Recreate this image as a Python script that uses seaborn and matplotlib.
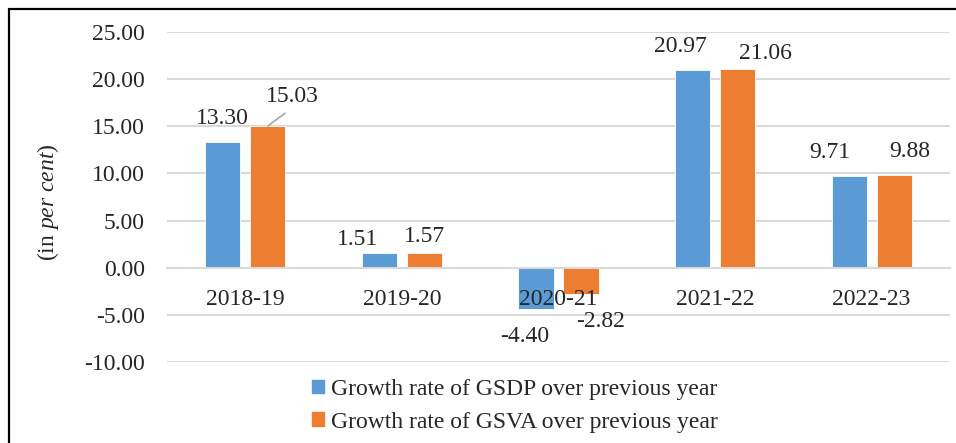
import numpy as np
import pandas as pd
import matplotlib
matplotlib.use("Agg")
import matplotlib.pyplot as plt
from matplotlib.lines import Line2D
import seaborn as sns

# data
years = ["2018-19", "2019-20", "2020-21", "2021-22", "2022-23"]
gsdp_growth = [13.30, 1.51, -4.40, 20.97, 9.71]
gsva_growth = [15.03, 1.57, -2.82, 21.06, 9.88]
series_names = ["Growth rate of GSDP over previous year",
                "Growth rate of GSVA over previous year"]
y_ticks = [-10, -5, 0, 5, 10, 15, 20, 25]

df = pd.DataFrame({
    "Year": years * 2,
    "Growth": gsdp_growth + gsva_growth,
    "Series": [series_names[0]] * len(years) + [series_names[1]] * len(years),
})

sns.set_style("white")
plt.rcParams["font.family"] = ["Liberation Serif", "DejaVu Serif"]
plt.rcParams["mathtext.fontset"] = "custom"
plt.rcParams["mathtext.rm"] = "Liberation Serif"
plt.rcParams["mathtext.it"] = "Liberation Serif:italic"

blue = "#5B9BD5"
orange = "#ED7D31"
fs = 17

fig = plt.figure(figsize=(9.56, 4.43), dpi=100)
ax = fig.add_axes([0.1747, 0.1828, 0.8190, 0.7450])

sns.barplot(data=df, x="Year", y="Growth", hue="Series",
            palette=[blue, orange], saturation=1, width=0.575, gap=0.22,
            edgecolor="white", linewidth=0.6, ax=ax, legend=False)

ax.set_ylim(-10, 25)
ax.set_xlim(-0.5, len(years) - 0.5)
ax.set_yticks(y_ticks)
ax.set_yticklabels([f"{v:.2f}" for v in y_ticks])
ax.yaxis.grid(True, color="#D9D9D9", linewidth=1.5)
ax.set_axisbelow(True)
ax.xaxis.set_zorder(3)  # category labels sit on top of the bars
for s in ["top", "right", "left"]:
    ax.spines[s].set_visible(False)
ax.spines["bottom"].set_position(("data", 0))
ax.spines["bottom"].set_color("#D9D9D9")
ax.spines["bottom"].set_linewidth(1.5)
ax.tick_params(axis="y", length=0, pad=16, labelsize=fs)
ax.tick_params(axis="x", length=0, pad=15, labelsize=fs)
ax.set_xlabel("")
ax.set_ylabel(r"(in $\it{per\ cent}$)", fontsize=fs)
ax.yaxis.set_label_coords(-0.135, 0.485)

# label offsets in pixels (dx, dy) for each bar, GSDP then GSVA
offsets = [
    [(0, 24), (-22, 14), (-11, -27), (-12, 23), (-19, 24)],
    [(25, 29), (0, 16), (20, -27), (28, 16), (16, 23)],
]
for si, containers in enumerate(ax.containers):
    for bi, bar in enumerate(containers):
        val = bar.get_height()
        x = bar.get_x() + bar.get_width() / 2
        dx, dy = offsets[si][bi]
        arrow = None
        if si == 1 and bi == 0:
            arrow = dict(arrowstyle="-", color="#A6A6A6", lw=1.2,
                         relpos=(0.5, 0.0), shrinkA=3, shrinkB=0)
        ax.annotate(f"{val:.2f}", xy=(x, val), xytext=(dx, dy),
                    textcoords="offset pixels", ha="center", va="center",
                    fontsize=fs, arrowprops=arrow)

handles = [plt.Rectangle((0, 0), 1, 1, color=c) for c in [blue, orange]]
fig.legend(handles, series_names, loc="upper left",
           bbox_to_anchor=(0.326, 0.145), frameon=False, fontsize=fs,
           handlelength=0.52, handleheight=0.52, handletextpad=0.3,
           labelspacing=0.5, borderaxespad=0, borderpad=0)

# frame on the left and top edge
fig.add_artist(Line2D([8.5 / 956, 8.5 / 956], [0, 1 - 8.5 / 443],
                      color="black", lw=1.6, transform=fig.transFigure))
fig.add_artist(Line2D([8.5 / 956, 1], [1 - 8.5 / 443, 1 - 8.5 / 443],
                      color="black", lw=1.6, transform=fig.transFigure))

fig.savefig("out.png", dpi=100)
